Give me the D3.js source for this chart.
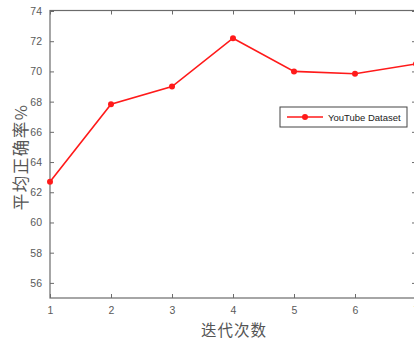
<!DOCTYPE html>
<html>
<head>
<meta charset="utf-8">
<script src="https://cdn.jsdelivr.net/npm/d3@7"></script>
<style>
  body { margin: 0; background: #fff; }
  svg { display: block; }
</style>
</head>
<body>
<svg id="chart" width="414" height="339"></svg>
<script>
// data
var iterations = [1, 2, 3, 4, 5, 6, 7];
var accuracy = [62.7, 67.83, 69.0, 72.2, 70.0, 69.85, 70.5];
var yTicks = [56, 58, 60, 62, 64, 66, 68, 70, 72, 74];
var xTicks = [1, 2, 3, 4, 5, 6, 7];
var seriesName = "YouTube Dataset";

var plotLeft = 50, plotRight = 416, plotTop = 10.5, plotBottom = 298;
var axisColor = "#6b6b6b";
var lineColor = "#ff1a1a";

var svg = d3.select("#chart");

var x = d3.scaleLinear().domain([1, 7]).range([plotLeft, plotRight]);
var y = d3.scaleLinear().domain([55, 74]).range([plotBottom, plotTop + 0.5]);

// frame box
svg.append("rect")
  .attr("x", plotLeft).attr("y", plotTop)
  .attr("width", plotRight - plotLeft).attr("height", plotBottom - plotTop)
  .attr("fill", "none").attr("stroke", axisColor).attr("stroke-width", 1.2);

// bottom axis
var gx = svg.append("g")
  .attr("transform", "translate(0," + plotBottom + ")")
  .call(d3.axisBottom(x).tickValues(xTicks).tickSize(-4).tickPadding(9).tickFormat(d3.format("d")));
// top ticks
var gxt = svg.append("g")
  .attr("transform", "translate(0," + plotTop + ")")
  .call(d3.axisTop(x).tickValues(xTicks).tickSize(-4).tickFormat(""));
// left axis
var gy = svg.append("g")
  .attr("transform", "translate(" + plotLeft + ",0)")
  .call(d3.axisLeft(y).tickValues(yTicks).tickSize(-4).tickPadding(8).tickFormat(d3.format("d")));
// right ticks
var gyr = svg.append("g")
  .attr("transform", "translate(" + plotRight + ",0)")
  .call(d3.axisRight(y).tickValues(yTicks).tickSize(-4).tickFormat(""));

[gx, gxt, gy, gyr].forEach(function(g) {
  g.select(".domain").remove();
  g.selectAll(".tick line").attr("stroke", axisColor).attr("stroke-width", 1);
  g.selectAll(".tick text")
    .attr("fill", "#5a5a5a")
    .style("font-family", "'Liberation Sans', Arial, sans-serif")
    .style("font-size", "10.5px");
});

// the series line
var line = d3.line()
  .x(function(d, i) { return x(iterations[i]); })
  .y(function(d) { return y(d); });

svg.append("path")
  .datum(accuracy)
  .attr("d", line)
  .attr("fill", "none")
  .attr("stroke", lineColor)
  .attr("stroke-width", 1.6);

svg.selectAll("circle.pt")
  .data(accuracy)
  .enter()
  .append("circle")
  .attr("class", "pt")
  .attr("cx", function(d, i) { return x(iterations[i]); })
  .attr("cy", function(d) { return y(d); })
  .attr("r", 3)
  .attr("fill", lineColor);

// axis titles
svg.append("text")
  .attr("x", 234).attr("y", 335.5)
  .attr("text-anchor", "middle")
  .attr("fill", "#555")
  .style("font-family", "'Noto Sans CJK SC', sans-serif")
  .style("font-size", "15.5px")
  .style("letter-spacing", "1px")
  .text("迭代次数");

svg.append("text")
  .attr("transform", "translate(27,157) rotate(-90)")
  .attr("text-anchor", "middle")
  .attr("fill", "#555")
  .style("font-family", "'Noto Sans CJK SC', sans-serif")
  .style("font-size", "16.5px")
  .style("letter-spacing", "1.5px")
  .text("平均正确率%");

// legend
var lg = svg.append("g").attr("transform", "translate(280,107)");
lg.append("rect")
  .attr("width", 127).attr("height", 20)
  .attr("fill", "#fff").attr("stroke", "#444").attr("stroke-width", 1);
lg.append("line")
  .attr("x1", 7).attr("x2", 43).attr("y1", 10).attr("y2", 10)
  .attr("stroke", lineColor).attr("stroke-width", 1.6);
lg.append("circle")
  .attr("cx", 25).attr("cy", 10).attr("r", 3).attr("fill", lineColor);
lg.append("text")
  .attr("x", 48).attr("y", 13.5)
  .attr("fill", "#222")
  .style("font-family", "'Liberation Sans', Arial, sans-serif")
  .style("font-size", "9.5px")
  .text(seriesName);
</script>
</body>
</html>
